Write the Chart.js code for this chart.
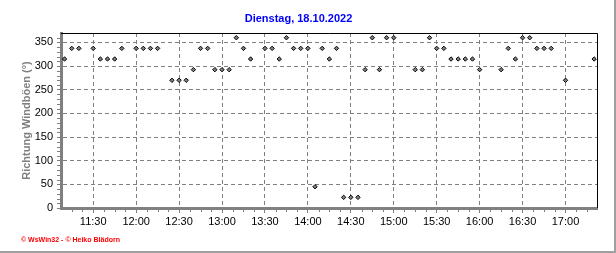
<!DOCTYPE html>
<html>
<head>
<meta charset="utf-8">
<script src="https://cdn.jsdelivr.net/npm/chart.js@4.4.0/dist/chart.umd.min.js"></script>
<style>
    html, body { margin: 0; padding: 0; background: #fff; }
    canvas { display: block; }
</style>
</head>
<body>
<canvas id="windChart" width="616" height="253"></canvas>
<script>
// Windböen-Richtung, 5-Minuten-Werte
const titleText = 'Dienstag, 18.10.2022';
const yAxisTitle = 'Richtung Windböen (°)';
const footerText = '© WsWin32 - © Heiko Blädorn';

const times = [
    '11:10', '11:15', '11:20', '11:30', '11:35', '11:40', '11:45', '11:50',
    '12:00', '12:05', '12:10', '12:15', '12:25', '12:30', '12:35', '12:40', '12:45', '12:50', '12:55',
    '13:00', '13:05', '13:10', '13:15', '13:20', '13:30', '13:35', '13:40', '13:45', '13:50', '13:55',
    '14:00', '14:05', '14:10', '14:15', '14:20', '14:25', '14:30', '14:35', '14:40', '14:45', '14:50', '14:55',
    '15:00', '15:15', '15:20', '15:25', '15:30', '15:35', '15:40', '15:45', '15:50', '15:55',
    '16:00', '16:15', '16:20', '16:25', '16:30', '16:35', '16:40', '16:45', '16:50',
    '17:00', '17:20'
];
const direction = [
    315, 337.5, 337.5, 337.5, 315, 315, 315, 337.5,
    337.5, 337.5, 337.5, 337.5, 270, 270, 270, 292.5, 337.5, 337.5, 292.5,
    292.5, 292.5, 360, 337.5, 315, 337.5, 337.5, 315, 360, 337.5, 337.5,
    337.5, 45, 337.5, 315, 337.5, 22.5, 22.5, 22.5, 292.5, 360, 292.5, 360,
    360, 292.5, 292.5, 360, 337.5, 337.5, 315, 315, 315, 315,
    292.5, 292.5, 337.5, 315, 360, 360, 337.5, 337.5, 337.5,
    270, 315
];
const xTickLabels = ['11:30', '12:00', '12:30', '13:00', '13:30', '14:00', '14:30', '15:00', '15:30', '16:00', '16:30', '17:00'];
const yTickValues = [0, 50, 100, 150, 200, 250, 300, 350];

const toMin = s => {
    const [h, m] = s.split(':').map(Number);
    return h * 60 + m;
};
const xTickValues = xTickLabels.map(toMin);
const points = times.map((t, i) => ({ x: toMin(t), y: direction[i] }));

const gray = '#808080';

// weißer Hintergrund + Rahmen rechts/unten
const backgroundPlugin = {
    id: 'background',
    beforeDraw(chart) {
        const { ctx, width, height } = chart;
        ctx.save();
        ctx.fillStyle = '#fff';
        ctx.fillRect(0, 0, width, height);
        ctx.fillStyle = '#a0a0a0';
        ctx.fillRect(width - 2, 0, 2, height);
        ctx.fillRect(0, height - 2, width, 2);
        ctx.restore();
    }
};

// schwarze Rahmenlinien oben/rechts, Zwischenstriche, Fußzeile
const decorPlugin = {
    id: 'decor',
    afterDraw(chart) {
        const { ctx, chartArea: a, scales: { x, y } } = chart;
        ctx.save();
        ctx.strokeStyle = '#000';
        ctx.lineWidth = 1;
        ctx.beginPath();
        ctx.moveTo(a.left, a.top + 0.5);
        ctx.lineTo(a.right + 0.5, a.top + 0.5);
        ctx.lineTo(a.right + 0.5, a.bottom);
        ctx.stroke();

        ctx.strokeStyle = gray;
        ctx.beginPath();
        for (let v = xTickValues[0]; v < x.max; v += 7.5) {
            if (xTickValues.includes(v)) continue;
            const px = Math.round(x.getPixelForValue(v)) + 0.5;
            ctx.moveTo(px, a.bottom + 1);
            ctx.lineTo(px, a.bottom + 4);
        }
        for (let v = xTickValues[0] - 7.5; v > x.min; v -= 7.5) {
            const px = Math.round(x.getPixelForValue(v)) + 0.5;
            ctx.moveTo(px, a.bottom + 1);
            ctx.lineTo(px, a.bottom + 4);
        }
        for (let v = 10; v < y.max; v += 10) {
            if (v % 50 === 0) continue;
            const py = Math.round(y.getPixelForValue(v)) + 0.5;
            ctx.moveTo(a.left - 4, py);
            ctx.lineTo(a.left - 1, py);
        }
        ctx.stroke();

        ctx.fillStyle = '#ff0000';
        ctx.font = 'bold 7px "Liberation Sans"';
        ctx.textBaseline = 'alphabetic';
        ctx.fillText(footerText, 21, 242);
        ctx.restore();
    }
};

new Chart(document.getElementById('windChart'), {
    type: 'scatter',
    data: {
        datasets: [{
            label: yAxisTitle,
            data: points,
            pointStyle: 'rectRot',
            pointRadius: 2.2,
            pointHoverRadius: 2.2,
            pointBackgroundColor: gray,
            pointBorderColor: '#000',
            pointBorderWidth: 1,
            showLine: false
        }]
    },
    options: {
        responsive: false,
        animation: false,
        layout: { padding: { left: 0, right: 19, top: 0, bottom: 0 } },
        plugins: {
            legend: { display: false },
            tooltip: { enabled: false },
            title: {
                display: true,
                text: titleText,
                color: '#0000ff',
                font: { family: 'Liberation Sans', size: 11, weight: 'bold', lineHeight: 1.2 },
                padding: { top: 12, bottom: 7.8 }
            }
        },
        scales: {
            x: {
                type: 'linear',
                min: 667.5,
                max: 1042,
                afterBuildTicks: scale => {
                    scale.ticks = xTickValues.map(v => ({ value: v }));
                },
                afterFit: scale => { scale.height = 45; },
                ticks: {
                    color: '#000',
                    font: { family: 'Liberation Sans', size: 11 },
                    padding: 2,
                    maxRotation: 0,
                    callback: v => xTickLabels[xTickValues.indexOf(v)]
                },
                grid: { color: gray, lineWidth: 1, tickLength: 5, tickColor: gray },
                border: { color: gray, width: 3, dash: [4, 3] }
            },
            y: {
                min: 0,
                max: 370,
                afterBuildTicks: scale => {
                    scale.ticks = yTickValues.map(v => ({ value: v }));
                },
                afterFit: scale => { scale.width = 61; },
                ticks: {
                    color: '#000',
                    font: { family: 'Liberation Sans', size: 11 },
                    padding: 4
                },
                grid: { color: gray, lineWidth: 1, tickLength: 4, tickColor: gray },
                border: { color: gray, width: 3, dash: [4, 3] },
                title: {
                    display: true,
                    text: yAxisTitle,
                    color: gray,
                    font: { family: 'Liberation Sans', size: 11, weight: 'bold', lineHeight: 1.2 },
                    padding: { top: 20, bottom: 0 }
                }
            }
        }
    },
    plugins: [backgroundPlugin, decorPlugin]
});
</script>
</body>
</html>
